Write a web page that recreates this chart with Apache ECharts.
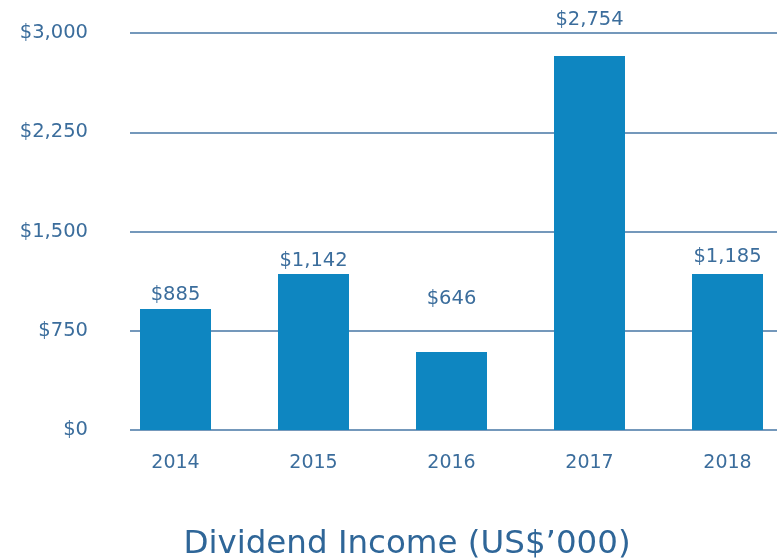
<!DOCTYPE html>
<html>
<head>
<meta charset="utf-8">
<script src="https://cdn.jsdelivr.net/npm/echarts@6/dist/echarts.min.js"></script>
<style>
html,body{margin:0;padding:0;background:#fff;}
#chart{width:777px;height:558px;}
</style>
</head>
<body>
<div id="chart"></div>
<script>
// Data
var categories = ['2014', '2015', '2016', '2017', '2018'];
var barValues = [914, 1179, 589, 2826, 1179];
var valueLabels = ['$885', '$1,142', '$646', '$2,754', '$1,185'];
var yTickMin = 0, yTickMax = 3000, yTickStep = 750;
var chartTitle = 'Dividend Income (US$\u2019000)';

// Styling
var labelGaps = [4, 3, 43, 26, 7];
var textColor = '#3b6d9c';
var lineColor = '#4676a4';
var barColor = '#0e86c1';
var fontFam = '"DejaVu Sans", sans-serif';

var chart = echarts.init(document.getElementById('chart'), null, {renderer: 'canvas'});

function money(v) {
  return '$' + String(v).replace(/\B(?=(\d{3})+(?!\d))/g, ',');
}

var option = {
  animation: false,
  backgroundColor: '#ffffff',
  title: {
    text: chartTitle,
    left: 402,
    textAlign: 'center',
    top: 523,
    textStyle: {color: '#2f6698', fontSize: 32.5, fontWeight: 'normal', fontFamily: fontFam}
  },
  grid: [
    {left: 130, right: 0, top: 33, bottom: 128, containLabel: false},
    {left: 175.5, right: 49.5, top: 33, bottom: 128, containLabel: false}
  ],
  xAxis: [
    {gridIndex: 0, type: 'category', data: categories, show: false},
    {
      gridIndex: 1, type: 'category', data: categories, boundaryGap: false,
      axisLine: {show: false}, axisTick: {show: false},
      axisLabel: {color: textColor, fontSize: 19, fontFamily: fontFam, margin: 24}
    }
  ],
  yAxis: [
    {
      gridIndex: 0, type: 'value', min: yTickMin, max: yTickMax, interval: yTickStep,
      axisLine: {show: false}, axisTick: {show: false},
      splitLine: {show: true, lineStyle: {color: lineColor, width: 1.5}},
      axisLabel: {color: textColor, fontSize: 19.5, fontFamily: fontFam, margin: 42, formatter: money}
    },
    {
      gridIndex: 1, type: 'value', min: yTickMin, max: yTickMax, interval: yTickStep,
      show: false
    }
  ],
  series: [{
    type: 'bar',
    xAxisIndex: 1,
    yAxisIndex: 1,
    barWidth: 71,
    z: 3,
    data: barValues.map(function (v, i) {
      return {
        value: v,
        label: {distance: labelGaps[i]}
      };
    }),
    itemStyle: {color: barColor},
    label: {
      show: true,
      position: 'top',
      color: textColor,
      fontSize: 19.5,
      fontFamily: fontFam,
      formatter: function (p) { return valueLabels[p.dataIndex]; }
    }
  }]
};
chart.setOption(option);
</script>
</body>
</html>
